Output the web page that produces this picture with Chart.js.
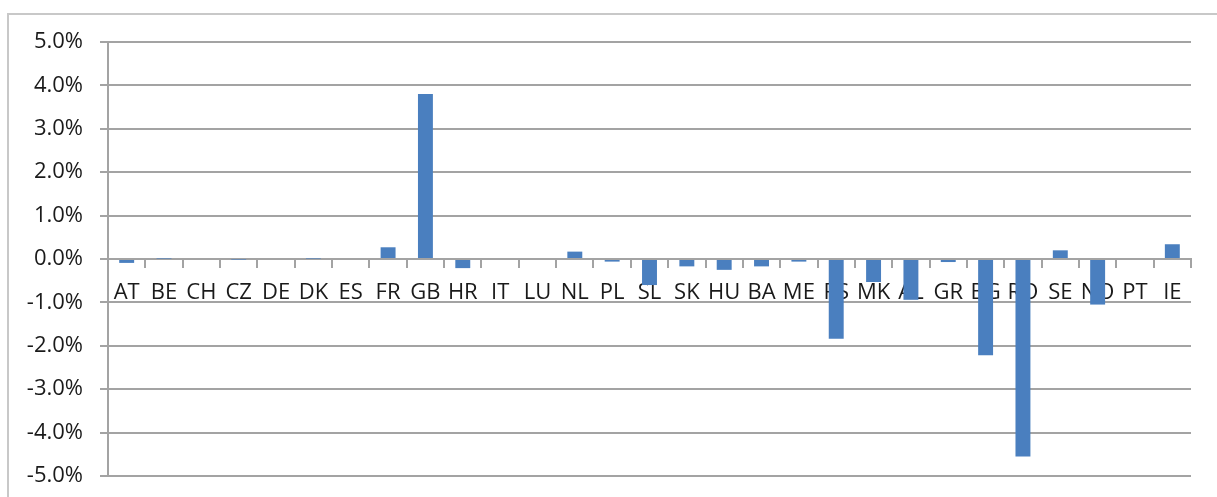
<!DOCTYPE html>
<html>
<head>
<meta charset="utf-8">
<script src="https://cdn.jsdelivr.net/npm/chart.js@4/dist/chart.umd.min.js"></script>
<style>
  html, body { margin: 0; padding: 0; background: #fff; overflow: hidden; }
  #frame {
    position: absolute; left: 7px; top: 13px; width: 1400px; height: 700px;
    border-left: 2px solid #c8c8c8; border-top: 2px solid #c8c8c8;
  }
  #wrap { position: absolute; left: 0; top: 0; width: 1217px; height: 497px; }
</style>
</head>
<body>
<div id="frame"></div>
<div id="wrap"><canvas id="chart" width="1217" height="497"></canvas></div>
<script>
// Country codes along the category axis
const countries = ['AT','BE','CH','CZ','DE','DK','ES','FR','GB','HR','IT','LU','NL','PL','SL',
                   'SK','HU','BA','ME','RS','MK','AL','GR','BG','RO','SE','NO','PT','IE'];
// Change per country, in percent
const changePct = [-0.09, 0.01, 0.0, -0.01, 0.0, 0.01, 0.0, 0.27, 3.8, -0.21, 0.0, 0.0, 0.17, -0.06, -0.6,
                   -0.17, -0.25, -0.17, -0.06, -1.84, -0.53, -0.94, -0.07, -2.22, -4.55, 0.2, -1.05, 0.0, 0.34];
// Value-axis ticks, in percent
const yTicks = [-5, -4, -3, -2, -1, 0, 1, 2, 3, 4, 5];

const gridGray = '#a3a3a3';
const fontFamily = '"Open Sans", "Liberation Sans", sans-serif';

new Chart(document.getElementById('chart'), {
  type: 'bar',
  data: {
    labels: countries,
    datasets: [{
      data: changePct,
      backgroundColor: '#4a7fbf',
      borderWidth: 0,
      barPercentage: 0.4,
      categoryPercentage: 1.0
    }]
  },
  options: {
    responsive: false,
    animation: false,
    layout: { padding: { left: 0, top: 42, right: 26, bottom: 21 } },
    plugins: { legend: { display: false }, tooltip: { enabled: false } },
    scales: {
      x: {
        position: { y: 0 },
        // the category axis sits on the zero line, so it takes no room of its own
        afterFit: (scale) => { scale.height = 0; },
        grid: {
          offset: true,
          drawOnChartArea: false,
          drawTicks: true,
          tickLength: 8,
          color: gridGray,
          lineWidth: 2
        },
        border: { display: true, color: gridGray, width: 2 },
        ticks: {
          autoSkip: false,
          maxRotation: 0,
          minRotation: 0,
          padding: 13,
          color: '#1a1a1a',
          font: { family: fontFamily, size: 22 }
        }
      },
      y: {
        min: -5,
        max: 5,
        afterFit: (scale) => {
          scale.width = 108;
          // the plot edges are set by the layout padding alone
          scale.paddingTop = 0;
          scale.paddingBottom = 0;
        },
        afterBuildTicks: (scale) => { scale.ticks = yTicks.map(v => ({ value: v })); },
        grid: {
          color: gridGray,
          lineWidth: 2,
          drawTicks: true,
          tickLength: 8
        },
        border: { display: true, color: gridGray, width: 2 },
        ticks: {
          padding: 17,
          color: '#1a1a1a',
          font: { family: fontFamily, size: 22 },
          callback: (v) => Number(v).toFixed(1) + '%'
        }
      }
    }
  }
});
</script>
</body>
</html>
